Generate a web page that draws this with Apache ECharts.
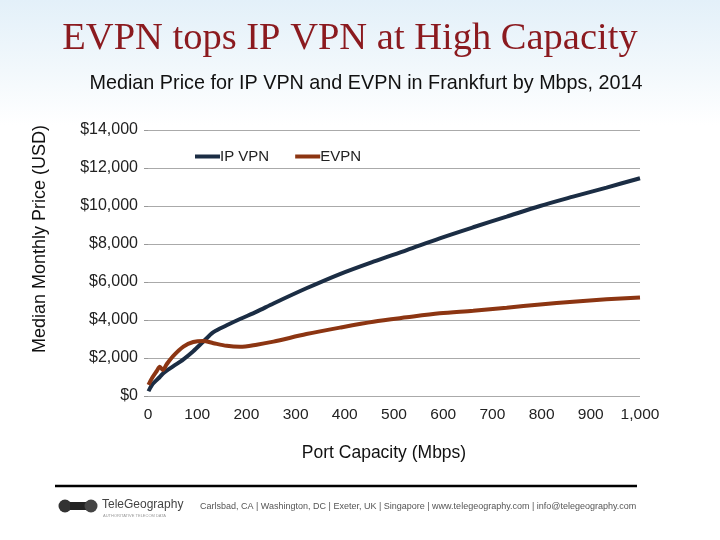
<!DOCTYPE html>
<html>
<head>
<meta charset="utf-8">
<script src="https://cdn.jsdelivr.net/npm/echarts@6/dist/echarts.min.js"></script>
<style>
html,body{margin:0;padding:0;}
body{background:linear-gradient(to bottom,#e3f0f9 0px,#f2f8fc 70px,#ffffff 125px);}
#chart{width:720px;height:540px;}
</style>
</head>
<body>
<div id="chart"></div>
<script>
const mbps = [1, 8, 18, 24, 30, 38, 51, 72, 92, 112, 133, 160, 187, 221, 255, 322, 390, 458, 526, 593, 661, 729, 797, 864, 932, 1000];
const ipVpn = [250, 580, 850, 1000, 1170, 1330, 1560, 1930, 2360, 2850, 3360, 3720, 4050, 4440, 4870, 5670, 6420, 7070, 7680, 8300, 8880, 9440, 10000, 10490, 10970, 11460];
const evpn = [580, 930, 1320, 1540, 1370, 1670, 2100, 2600, 2840, 2900, 2780, 2640, 2590, 2700, 2860, 3260, 3600, 3910, 4140, 4350, 4490, 4650, 4820, 4960, 5090, 5190];
const seriesNames = ['IP VPN', 'EVPN'];

const chart = echarts.init(document.getElementById('chart'), null, {renderer: 'canvas'});
const fmt = v => v.toLocaleString('en-US');
const sans = 'Liberation Sans, Arial, sans-serif';
chart.setOption({
  backgroundColor: 'transparent',
  animation: false,
  title: [
    {text: 'EVPN tops IP VPN at High Capacity', left: 345, top: 14, textAlign: 'center',
     textStyle: {fontFamily: 'Liberation Serif, Times New Roman, serif', fontSize: 38.5, fontWeight: 'normal', color: '#8b1a1f'}},
    {text: 'Median Price for IP VPN and EVPN in Frankfurt by Mbps, 2014', left: 361, top: 69, textAlign: 'center',
     textStyle: {fontFamily: sans, fontSize: 19.8, fontWeight: 'normal', color: '#111'}}
  ],
  legend: {
    left: 190, top: 144, itemWidth: 25, itemHeight: 4, itemGap: 26, icon: 'rect',
    textStyle: {fontFamily: sans, fontSize: 15, color: '#222', padding: [0,0,0,-5]},
    data: seriesNames
  },
  grid: {left: 148, right: 80, top: 130, bottom: 144, containLabel: false},
  xAxis: {
    type: 'value', min: 0, max: 1000, interval: 100,
    name: 'Port Capacity (Mbps)', nameLocation: 'middle', nameGap: 48,
    nameTextStyle: {fontFamily: sans, fontSize: 17.5, color: '#111', padding: [0, 20, 0, 0]},
    axisLine: {show: false}, axisTick: {show: false}, splitLine: {show: false},
    axisLabel: {formatter: fmt, fontFamily: sans, fontSize: 15.5, color: '#222', margin: 11}
  },
  yAxis: {
    type: 'value', min: 0, max: 14000, interval: 2000,
    axisLine: {show: false},
    axisTick: {show: true, length: 4, lineStyle: {color: '#999'}},
    splitLine: {show: true, lineStyle: {color: '#aaaaaa', width: 1}},
    axisLabel: {formatter: v => '$' + fmt(v), fontFamily: sans, fontSize: 16, color: '#222', margin: 10}
  },
  series: [
    {name: seriesNames[0], type: 'line', smooth: 0.3, symbol: 'none', z: 3,
     data: mbps.map((x, i) => [x, ipVpn[i]]),
     lineStyle: {color: '#1b2d44', width: 4}, itemStyle: {color: '#1b2d44'}},
    {name: seriesNames[1], type: 'line', smooth: 0.3, symbol: 'none', z: 4,
     data: mbps.map((x, i) => [x, evpn[i]]),
     lineStyle: {color: '#8c3512', width: 4}, itemStyle: {color: '#8c3512'}}
  ],
  graphic: [
    {type: 'text', x: 40, y: 239, rotation: Math.PI / 2,
     style: {text: 'Median Monthly Price (USD)', font: '18px Liberation Sans, Arial, sans-serif', fill: '#111', textAlign: 'center', textVerticalAlign: 'middle'}},
    {type: 'line', shape: {x1: 55, y1: 486, x2: 637, y2: 486}, style: {stroke: '#000', lineWidth: 2.5}},
    {type: 'circle', shape: {cx: 65, cy: 506, r: 6.5}, style: {fill: '#333'}},
    {type: 'rect', shape: {x: 70, y: 502, width: 16, height: 8}, style: {fill: '#222'}},
    {type: 'circle', shape: {cx: 91, cy: 506, r: 6.5}, style: {fill: '#444'}},
    {type: 'text', left: 102, top: 499, style: {text: 'TeleGeography', font: '12px Liberation Sans, Arial, sans-serif', fill: '#444'}},
    {type: 'text', left: 103, top: 514, style: {text: 'AUTHORITATIVE TELECOM DATA', font: '4px Liberation Sans, Arial, sans-serif', fill: '#999'}},
    {type: 'text', left: 200, top: 502, style: {text: 'Carlsbad, CA | Washington, DC | Exeter, UK | Singapore | www.telegeography.com | info@telegeography.com', font: '9px Liberation Sans, Arial, sans-serif', fill: '#555'}}
  ]
});
</script>
</body>
</html>
